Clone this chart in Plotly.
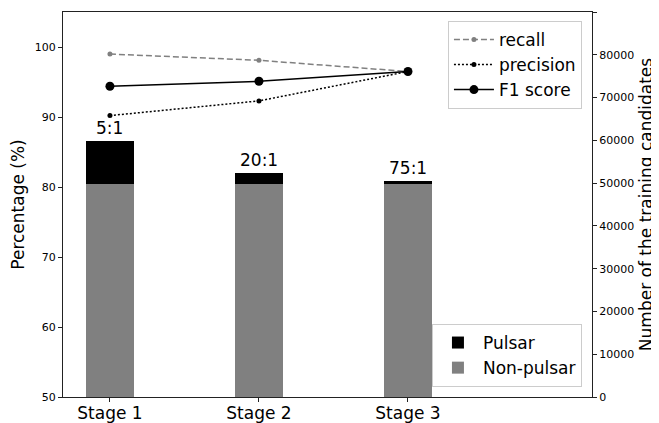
import plotly.graph_objects as go

stages = ["Stage 1", "Stage 2", "Stage 3"]
ratio_labels = ["5:1", "20:1", "75:1"]
non_pulsar = [49800, 49800, 49800]
pulsar = [9960, 2490, 664]
recall = [99.0, 98.1, 96.5]
precision = [90.2, 92.3, 96.5]
f1_score = [94.4, 95.1, 96.5]
right_ticks = list(range(0, 90001, 10000))
right_tick_labels = [str(v) for v in right_ticks]

FONT = "DejaVu Sans"
AX = "#222222"

fig = go.Figure()

fig.add_trace(go.Bar(x=stages, y=non_pulsar, name="Non-pulsar", marker=dict(color="#808080", line=dict(width=0)),
                     width=0.32, yaxis="y2", legend="legend2"))
fig.add_trace(go.Bar(x=stages, y=pulsar, name="Pulsar", marker=dict(color="#000000", line=dict(width=0)),
                     width=0.32, yaxis="y2", legend="legend2"))

fig.add_trace(go.Scatter(x=stages, y=recall, name="recall", mode="lines+markers",
                         line=dict(color="#808080", dash="6px,3px", width=1.5),
                         marker=dict(size=5, color="#808080"), legend="legend"))
fig.add_trace(go.Scatter(x=stages, y=precision, name="precision", mode="lines+markers",
                         line=dict(color="#000000", dash="2px,2px", width=1.5),
                         marker=dict(size=5, color="#000000"), legend="legend"))
fig.add_trace(go.Scatter(x=stages, y=f1_score, name="F1 score", mode="lines+markers",
                         line=dict(color="#000000", width=1.5),
                         marker=dict(size=9, color="#000000"), legend="legend"))

for s, lab, a, b in zip(stages, ratio_labels, non_pulsar, pulsar):
    fig.add_annotation(x=s, y=a + b, yref="y2", text=lab, showarrow=False,
                       yanchor="bottom", yshift=1, font=dict(family=FONT, size=17, color="#000"))

fig.update_layout(
    width=651, height=415,
    margin=dict(l=55, r=67, t=4, b=26, autoexpand=False),
    paper_bgcolor="white", plot_bgcolor="white",
    barmode="stack",
    font=dict(family=FONT, color="#000"),
    xaxis=dict(type="category", range=[-0.315, 3.235], showline=True, linecolor=AX, linewidth=1.2,
               mirror=True, ticks="outside", ticklen=4, tickcolor=AX, showgrid=False, automargin=False,
               ticklabelstandoff=-4, tickfont=dict(size=17, family=FONT, color="#000")),
    yaxis=dict(range=[50, 105], tickvals=[50, 60, 70, 80, 90, 100], showline=True, linecolor=AX,
               linewidth=1.2, ticks="outside", ticklen=4, tickcolor=AX, showgrid=False, zeroline=False,
               automargin=False, tickfont=dict(size=11, family=FONT, color="#000"),
               title=dict(text="Percentage (%)", font=dict(size=17, family=FONT, color="#000"), standoff=12)),
    yaxis2=dict(range=[0, 90000], overlaying="y", side="right", tickvals=right_ticks, ticktext=right_tick_labels,
                showline=True, linecolor=AX, linewidth=1.2, ticks="outside", ticklen=4, tickcolor=AX,
                showgrid=False, zeroline=False, automargin=False, tickfont=dict(size=11, family=FONT, color="#000"),
                title=dict(text="Number of the training candidates", font=dict(size=17, family=FONT, color="#000"),
                           standoff=6)),
    legend=dict(x=0.981, y=0.977, xanchor="right", yanchor="top", bgcolor="rgba(255,255,255,0.85)",
                bordercolor="#cccccc", borderwidth=1, font=dict(size=17, family=FONT), traceorder="normal",
                itemwidth=40),
    legend2=dict(x=0.981, y=0.026, xanchor="right", yanchor="bottom", bgcolor="rgba(255,255,255,0.85)",
                 bordercolor="#cccccc", borderwidth=1, font=dict(size=17, family=FONT), traceorder="reversed",
                 itemwidth=40),
)

fig.write_html("out.html")
